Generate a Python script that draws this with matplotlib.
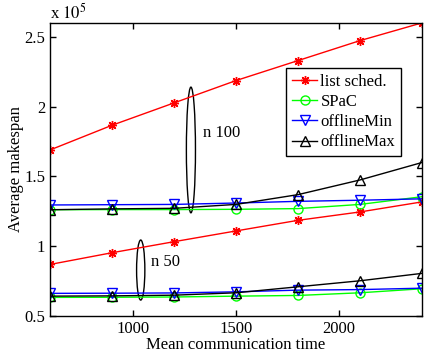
import matplotlib
matplotlib.use("Agg")
import matplotlib.pyplot as plt
from matplotlib.patches import Ellipse

plt.rcParams["font.family"] = ["Liberation Serif", "DejaVu Serif"]
plt.rcParams["mathtext.fontset"] = "stix"

comm_time = [600, 900, 1200, 1500, 1800, 2100, 2400]

# values in units of 1e5, n = 100
list_100 = [1.69, 1.867, 2.027, 2.187, 2.33, 2.473, 2.60]
spac_100 = [1.262, 1.263, 1.263, 1.265, 1.27, 1.30, 1.355]
min_100 = [1.296, 1.298, 1.30, 1.31, 1.322, 1.33, 1.34]
max_100 = [1.262, 1.268, 1.272, 1.30, 1.37, 1.475, 1.60]

# n = 50
list_50 = [0.87, 0.954, 1.033, 1.11, 1.186, 1.246, 1.318]
spac_50 = [0.634, 0.635, 0.637, 0.643, 0.648, 0.667, 0.696]
min_50 = [0.663, 0.664, 0.666, 0.674, 0.686, 0.69, 0.70]
max_50 = [0.643, 0.645, 0.65, 0.667, 0.71, 0.753, 0.806]

series = [
    ("list sched.", list_100, list_50, "#ff0000", (8, 2, 0)),
    ("SPaC", spac_100, spac_50, "#00ff00", "o"),
    ("offlineMin", min_100, min_50, "#0000ff", "v"),
    ("offlineMax", max_100, max_50, "#000000", "^"),
]

fig = plt.figure(figsize=(4.24, 3.58), dpi=100)
ax = fig.add_axes([0.118, 0.117, 0.877, 0.819])

for name, y100, y50, color, marker in series:
    ax.plot(comm_time, y100, color=color, marker=marker, markersize=6.5,
            markerfacecolor="none", markeredgecolor=color, lw=1, label=name)
    ax.plot(comm_time, y50, color=color, marker=marker, markersize=6.5,
            markerfacecolor="none", markeredgecolor=color, lw=1)

ax.add_patch(Ellipse((1282, 1.69), 44, 0.9, fill=False, edgecolor="black", lw=1))
ax.add_patch(Ellipse((1039, 0.83), 40, 0.43, fill=False, edgecolor="black", lw=1))
ax.text(1340, 1.81, "n 100", fontsize=12, va="center")
ax.text(1089, 0.89, "n 50", fontsize=12, va="center")

ax.set_xlim(600, 2400)
ax.set_ylim(0.5, 2.6)
ax.set_xticks([1000, 1500, 2000])
ax.set_yticks([0.5, 1, 1.5, 2, 2.5])
ax.set_yticklabels(["0.5", "1", "1.5", "2", "2.5"])
ax.tick_params(direction="in", top=True, right=True, labelsize=12, length=4, width=1)
for sp in ax.spines.values():
    sp.set_linewidth(1)

ax.set_xlabel("Mean communication time", fontsize=12, labelpad=0)
ax.set_ylabel("Average makespan", fontsize=12, labelpad=0)
ax.text(0, 1.0, r"x $10^5$", transform=ax.transAxes, fontsize=12, va="bottom", ha="left")

leg = ax.legend(loc="upper right", bbox_to_anchor=(0.944, 0.846), borderaxespad=0,
                fontsize=12, fancybox=False, framealpha=1, edgecolor="black",
                handlelength=1.5, handletextpad=0.2, borderpad=0.35, labelspacing=0.25)
leg.get_frame().set_linewidth(1)

fig.savefig("out.png", dpi=100)
